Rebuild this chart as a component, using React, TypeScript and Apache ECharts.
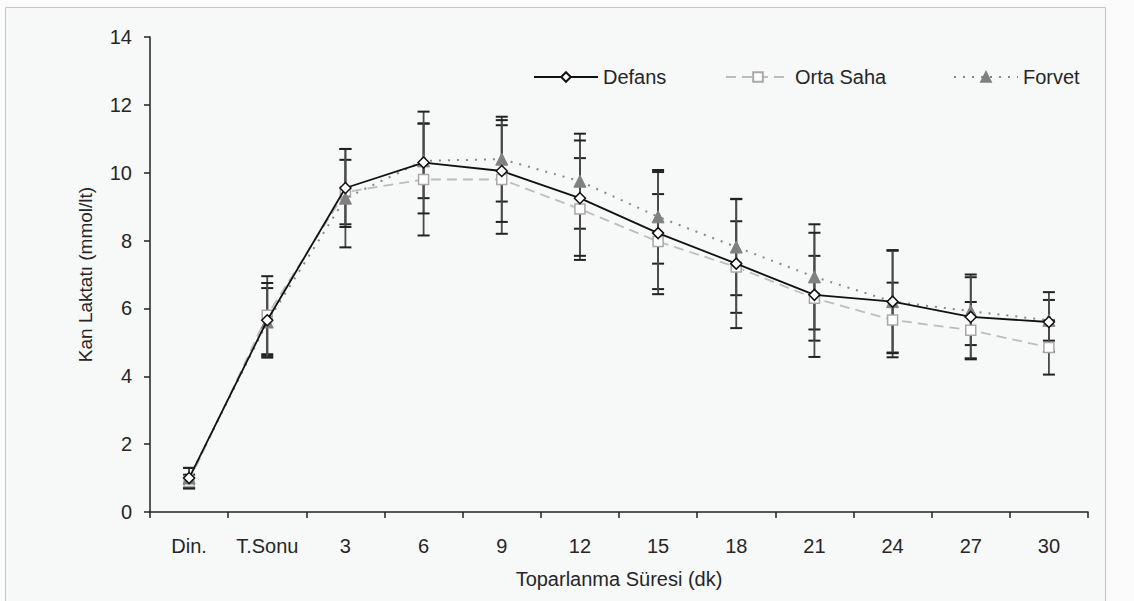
import React, { useEffect, useRef } from "react";
import * as echarts from "echarts";

const categories = ["Din.", "T.Sonu", "3", "6", "9", "12", "15", "18", "21", "24", "27", "30"];
const defans = [1.0, 5.65, 9.55, 10.3, 10.05, 9.25, 8.22, 7.32, 6.4, 6.2, 5.75, 5.6];
const ortaSaha = [0.9, 5.8, 9.43, 9.8, 9.8, 8.93, 7.97, 7.22, 6.3, 5.66, 5.36, 4.85];
const forvet = [1.0, 5.6, 9.25, 10.35, 10.4, 9.75, 8.7, 7.81, 6.93, 6.2, 5.92, 5.65];
const defansSd = [0.3, 1.1, 1.15, 1.5, 1.5, 1.7, 1.8, 1.9, 1.83, 1.52, 1.25, 0.88];
const ortaSahaSd = [0.2, 1.15, 0.95, 1.65, 1.6, 1.5, 1.4, 1.35, 1.25, 1.1, 0.83, 0.8];
const forvetSd = [0.3, 1.0, 1.45, 1.1, 1.25, 1.4, 1.38, 1.42, 1.55, 1.5, 1.0, 0.6];

const FONT = '"Liberation Sans", Arial, sans-serif';
const TXT = "#262626";

function errData(means: number[], sds: number[]) {
  return means.map((m, i) => [i, m - sds[i], m + sds[i]]);
}

function errorSeries(name: string, means: number[], sds: number[]) {
  return {
    type: "custom",
    name: name + "-err",
    z: 1,
    silent: true,
    data: errData(means, sds),
    renderItem: (params: any, api: any) => {
      const x = api.value(0);
      const lo = api.coord([x, api.value(1)]);
      const hi = api.coord([x, api.value(2)]);
      const hw = 6;
      const style = { stroke: "#222", lineWidth: 2 };
      return {
        type: "group",
        children: [
          { type: "line", shape: { x1: lo[0], y1: lo[1], x2: hi[0], y2: hi[1] }, style: { stroke: "#4a4a4a", lineWidth: 1.8 } },
          { type: "line", shape: { x1: lo[0] - hw, y1: lo[1], x2: lo[0] + hw, y2: lo[1] }, style },
          { type: "line", shape: { x1: hi[0] - hw, y1: hi[1], x2: hi[0] + hw, y2: hi[1] }, style },
        ],
      };
    },
  };
}

function legendAt(name: string, left: number) {
  return {
    left,
    top: 62,
    itemWidth: 64,
    itemHeight: 12,
    itemGap: 6,
    textStyle: { fontFamily: FONT, fontSize: 20, color: TXT },
    data: [name],
  };
}

export default function App() {
  const ref = useRef<HTMLDivElement>(null);
  useEffect(() => {
    if (!ref.current) return;
    const chart = echarts.init(ref.current, undefined, { renderer: "svg" });
    chart.setOption({
      animation: false,
      backgroundColor: "#fbfbfb",
      textStyle: { fontFamily: FONT },
      graphic: [
        {
          type: "rect",
          z: -10,
          shape: { x: 5.5, y: 7.5, width: 1100, height: 620 },
          style: { fill: "#f7f8f8", stroke: "#c4c4c4", lineWidth: 1 },
        },
      ],
      grid: { left: 150, right: 46, top: 37, bottom: 89 },
      legend: [legendAt("Defans", 528), legendAt("Orta Saha", 720), legendAt("Forvet", 948)],
      xAxis: {
        type: "category",
        data: categories,
        boundaryGap: true,
        name: "Toparlanma Süresi (dk)",
        nameLocation: "middle",
        nameGap: 57,
        nameTextStyle: { fontFamily: FONT, fontSize: 20, color: TXT },
        axisLine: { lineStyle: { color: "#222", width: 1.5 } },
        axisTick: { show: true, interval: 0, length: 6, lineStyle: { color: "#222", width: 1.5 } },
        axisLabel: { interval: 0, hideOverlap: false, fontFamily: FONT, fontSize: 20, color: TXT, margin: 24 },
        splitLine: { show: false },
      },
      yAxis: {
        type: "value",
        min: 0,
        max: 14,
        interval: 2,
        name: "Kan Laktatı (mmol/lt)",
        nameLocation: "middle",
        nameGap: 55,
        nameTextStyle: { fontFamily: FONT, fontSize: 19, color: TXT },
        axisLine: { show: true, lineStyle: { color: "#222", width: 1.5 } },
        axisTick: { show: true, length: 6, lineStyle: { color: "#222", width: 1.5 } },
        axisLabel: { fontFamily: FONT, fontSize: 20, color: TXT, margin: 18 },
        splitLine: { show: false },
      },
      series: [
        errorSeries("Orta Saha", ortaSaha, ortaSahaSd),
        errorSeries("Forvet", forvet, forvetSd),
        errorSeries("Defans", defans, defansSd),
        {
          type: "line",
          name: "Orta Saha",
          data: ortaSaha,
          z: 3,
          symbol: "rect",
          symbolSize: 10,
          showAllSymbol: true,
          lineStyle: { color: "#bdbdbd", width: 1.8, type: [10, 6] },
          itemStyle: { color: "#ffffff", borderColor: "#a8a8a8", borderWidth: 1.5 },
        },
        {
          type: "line",
          name: "Forvet",
          data: forvet,
          z: 4,
          symbol: "triangle",
          symbolSize: 12,
          showAllSymbol: true,
          lineStyle: { color: "#888888", width: 2, type: [2, 7] },
          itemStyle: { color: "#808080", borderColor: "#808080", borderWidth: 1 },
        },
        {
          type: "line",
          name: "Defans",
          data: defans,
          z: 5,
          symbol: "diamond",
          symbolSize: 11,
          showAllSymbol: true,
          lineStyle: { color: "#111111", width: 1.8 },
          itemStyle: { color: "#ffffff", borderColor: "#111111", borderWidth: 1.5 },
        },
      ],
    });
    return () => chart.dispose();
  }, []);
  return (
    <div
      ref={ref}
      style={{ position: "fixed", left: 0, top: 0, width: 1134, height: 601 }}
    />
  );
}
